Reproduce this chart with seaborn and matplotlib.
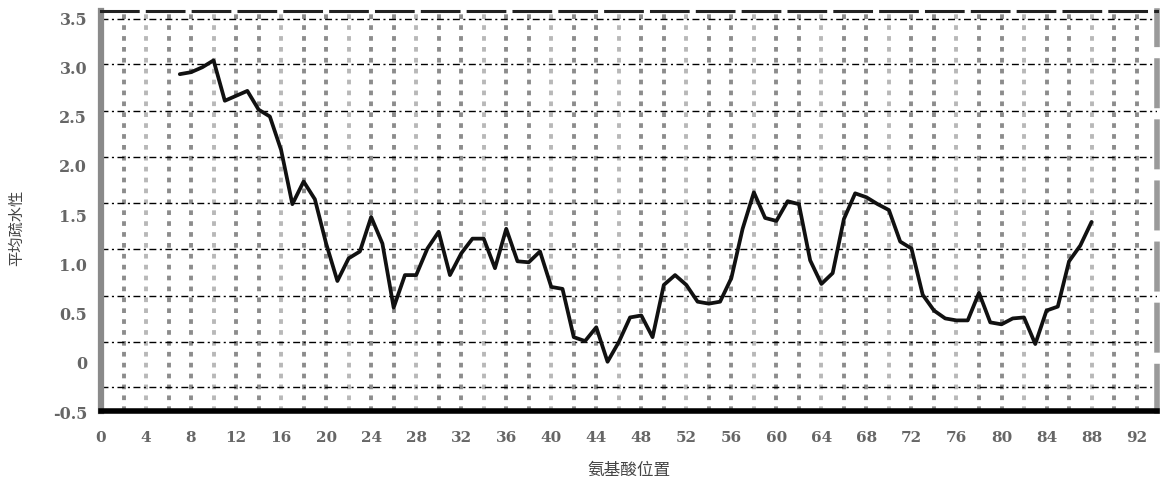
import numpy as np
import pandas as pd
import matplotlib
matplotlib.use("Agg")
import matplotlib.pyplot as plt
from matplotlib.ticker import MultipleLocator
import seaborn as sns

# ---- data ----
positions = list(range(7, 89))
hydrophobicity = [
    2.92, 2.94, 2.99, 3.06, 2.65, 2.70, 2.75, 2.56, 2.49, 2.15,   # 7-16
    1.60, 1.83, 1.65, 1.20, 0.82, 1.05, 1.12, 1.47, 1.20, 0.55,   # 17-26
    0.88, 0.88, 1.15, 1.32, 0.88, 1.10, 1.25, 1.25, 0.95, 1.35,   # 27-36
    1.02, 1.01, 1.12, 0.76, 0.74, 0.25, 0.21, 0.35, 0.00, 0.20,   # 37-46
    0.45, 0.47, 0.25, 0.78, 0.88, 0.78, 0.61, 0.59, 0.61, 0.85,   # 47-56
    1.35, 1.72, 1.46, 1.43, 1.63, 1.60, 1.03, 0.79, 0.90, 1.45,   # 57-66
    1.71, 1.67, 1.60, 1.54, 1.22, 1.15, 0.68, 0.52, 0.44, 0.42,   # 67-76
    0.42, 0.70, 0.40, 0.38, 0.44, 0.45, 0.18, 0.52, 0.56, 1.02,   # 77-86
    1.18, 1.42,                                                   # 87-88
]
x_ticks = list(range(0, 93, 4))
y_ticks = [-0.5, 0, 0.5, 1.0, 1.5, 2.0, 2.5, 3.0, 3.5]
y_tick_labels = ["-0.5", "0", "0.5", "1.0", "1.5", "2.0", "2.5", "3.0", "3.5"]
x_label = "氨基酸位置"
y_label = "平均疏水性"

df = pd.DataFrame({"pos": positions, "val": hydrophobicity})

sns.set_style("white")
plt.rcParams["font.family"] = ["DejaVu Serif", "Noto Sans CJK SC"]

fig = plt.figure(figsize=(11.65, 4.85), dpi=100)
ax = fig.add_axes([0.0867, 0.1505, 0.9063, 0.8245])

# vertical dotted grid (every 2 units)
for i, xv in enumerate(np.arange(2, 94, 2)):
    col = "#8c8c8c" if i % 3 != 1 else "#b8b8b8"
    ax.axvline(xv, color=col, lw=2.8, ls=(0, (1.2, 1.6)), zorder=1)

# horizontal dashed grid (positions as drawn in the reference)
hgrid_levels = [3.48, 3.02, 2.55, 2.08, 1.61, 1.14, 0.67, 0.20, -0.26]
for yv in hgrid_levels:
    ax.axhline(yv, color="black", lw=1.0, ls=(0, (5, 2.5, 1.5, 2.5)), zorder=1)

sns.lineplot(data=df, x="pos", y="val", ax=ax, color="#111111",
             linewidth=2.7, zorder=3)

ax.set_xlim(0, 93.8)
ax.set_ylim(-0.5, 3.56)
ax.set_xticks(x_ticks)
ax.set_xticklabels([str(t) for t in x_ticks])
ax.set_yticks(y_ticks)
ax.set_yticklabels(y_tick_labels)
ax.yaxis.set_minor_locator(MultipleLocator(0.125))
ax.tick_params(axis="y", which="major", length=4, width=1.2, color="#777",
               labelsize=11.5, labelcolor="#666", pad=6, direction="out")
ax.tick_params(axis="y", which="minor", length=2.5, width=1.2, color="#777",
               direction="out", left=True)
ax.tick_params(axis="x", which="major", length=0, labelsize=11,
               labelcolor="#666", pad=14)
for lbl in ax.get_xticklabels() + ax.get_yticklabels():
    lbl.set_fontweight("bold")

ax.set_xlabel(x_label, family=["Noto Sans CJK SC", "DejaVu Sans"],
              fontsize=12, color="#444", labelpad=12)
ax.set_ylabel(y_label, family=["Noto Sans CJK SC", "DejaVu Sans"],
              fontsize=11, color="#444", labelpad=20)
ax.yaxis.set_label_coords(-0.072, 0.46)

# spines
ax.spines["left"].set_color("#8a8a8a")
ax.spines["left"].set_linewidth(4.5)
ax.spines["bottom"].set_color("black")
ax.spines["bottom"].set_linewidth(4.0)
ax.spines["top"].set_color("#222")
ax.spines["top"].set_linewidth(2.2)
ax.spines["top"].set_linestyle((0, (12, 3)))
ax.spines["right"].set_color("#9a9a9a")
ax.spines["right"].set_linewidth(4.0)
ax.spines["right"].set_linestyle((0, (8, 3)))

ax.set_facecolor("white")
fig.savefig("out.png", dpi=100, facecolor="white")
